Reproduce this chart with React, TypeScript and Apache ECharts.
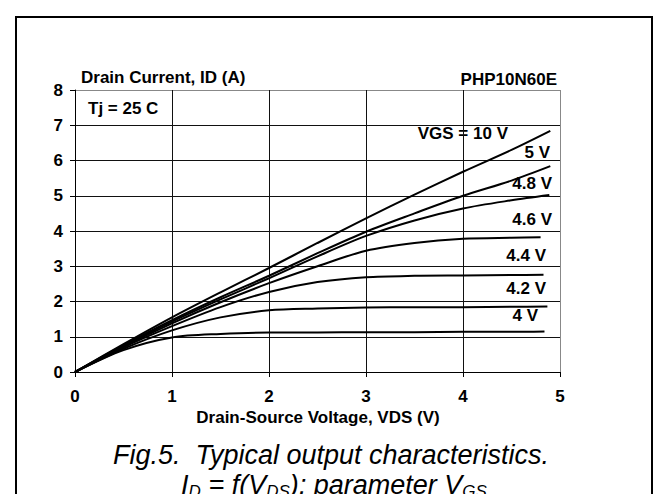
import React, { useEffect, useRef } from "react";
import * as echarts from "echarts";

const FONT = '"Liberation Sans", Arial, Helvetica, sans-serif';

// Drain-source voltage sample points (V)
const vdsPoints = [0, 0.5, 1, 1.5, 2, 2.5, 3, 3.5, 4, 4.5];
// Drain current (A) for each gate voltage at the sample points
const id10V = [0, 0.79, 1.55, 2.26, 2.95, 3.66, 4.36, 5.03, 5.68, 6.3];
const id5V = [0, 0.76, 1.47, 2.12, 2.73, 3.37, 3.98, 4.5, 5.0, 5.43];
const id48V = [0, 0.74, 1.43, 2.06, 2.66, 3.28, 3.86, 4.3, 4.64, 4.87];
const id46V = [0, 0.72, 1.38, 1.98, 2.52, 3.0, 3.44, 3.66, 3.78, 3.81];
const id44V = [0, 0.7, 1.3, 1.84, 2.27, 2.55, 2.69, 2.73, 2.74, 2.75];
const id42V = [0, 0.66, 1.18, 1.55, 1.75, 1.8, 1.83, 1.84, 1.84, 1.85];
const id4V = [0, 0.62, 0.98, 1.08, 1.12, 1.12, 1.13, 1.13, 1.14, 1.14];
// end points of each curve
const endVds = [4.9, 4.9, 4.89, 4.8, 4.83, 4.87, 4.84];
const endId = [6.84, 5.84, 5.02, 3.82, 2.76, 1.86, 1.15];
const curveNames = ["VGS = 10 V", "5 V", "4.8 V", "4.6 V", "4.4 V", "4.2 V", "4 V"];
const curveValues = [id10V, id5V, id48V, id46V, id44V, id42V, id4V];

const xTitle = "Drain-Source Voltage, VDS (V)";
const yTitle = "Drain Current, ID (A)";
const partName = "PHP10N60E";
const tempNote = "Tj = 25 C";
const caption1 = "Fig.5.  Typical output characteristics.";

// label positions (pixels): right edge x, center y
const labelPos = [
  [508, 133],
  [550, 152],
  [552, 183],
  [552, 219],
  [546, 255],
  [546, 288],
  [538, 315],
];

export default function App() {
  const ref = useRef<HTMLDivElement>(null);
  useEffect(() => {
    if (!ref.current) return;
    const chart = echarts.init(ref.current, null, { renderer: "svg" });
    const series = curveValues.map((vals, k) => ({
      type: "line",
      name: curveNames[k],
      showSymbol: false,
      smooth: 0.3,
      lineStyle: { color: "#000", width: 2 },
      data: [...vdsPoints.map((v, i) => [v, vals[i]]), [endVds[k], endId[k]]],
    }));
    const bold = { fontFamily: FONT, fontWeight: "bold", fontSize: 17, fill: "#000" };
    const graphic: any[] = [
      {
        type: "rect",
        shape: { x: 16, y: 17, width: 636, height: 520 },
        style: { fill: "none", stroke: "#000", lineWidth: 2 },
        silent: true,
      },
      { type: "text", x: 81, y: 77, style: { ...bold, text: yTitle, align: "left", verticalAlign: "middle" } },
      { type: "text", x: 557, y: 79, style: { ...bold, text: partName, align: "right", verticalAlign: "middle" } },
      { type: "text", x: 88, y: 108, style: { ...bold, text: tempNote, align: "left", verticalAlign: "middle" } },
      { type: "text", x: 318, y: 417, style: { ...bold, text: xTitle, align: "center", verticalAlign: "middle" } },
      {
        type: "text",
        x: 331,
        y: 455,
        style: {
          text: caption1,
          fontFamily: FONT,
          fontStyle: "italic",
          fontSize: 27,
          fill: "#000",
          align: "center",
          verticalAlign: "middle",
        },
      },
      {
        type: "text",
        x: 334,
        y: 485,
        style: {
          text: "{i|I}{s|D}{i| = f(V}{s|DS}{i|); parameter V}{s|GS}",
          align: "center",
          verticalAlign: "middle",
          fill: "#000",
          rich: {
            i: { fontFamily: FONT, fontStyle: "italic", fontSize: 27, fill: "#000", lineHeight: 28 },
            s: { fontFamily: FONT, fontStyle: "italic", fontSize: 17, fill: "#000", padding: [13, 0, 0, 0], lineHeight: 28 },
          },
        },
      },
      ...curveNames.map((n, k) => ({
        type: "text",
        x: labelPos[k][0],
        y: labelPos[k][1],
        style: { ...bold, text: n, align: "right", verticalAlign: "middle" },
      })),
    ];
    chart.setOption({
      animation: false,
      backgroundColor: "#fff",
      grid: { left: 75, top: 90, width: 485, height: 282 },
      xAxis: {
        type: "value",
        min: 0,
        max: 5,
        interval: 1,
        axisLine: { show: true, lineStyle: { color: "#000", width: 1 } },
        axisTick: { show: true, length: 5, inside: false, lineStyle: { color: "#000" } },
        axisLabel: { fontFamily: FONT, fontWeight: "bold", fontSize: 17, color: "#000", margin: 16 },
        splitLine: {
          show: true,
          lineStyle: { color: ["#111", "#111", "#111", "#111", "#111", "#888"], width: 1 },
        },
      },
      yAxis: {
        type: "value",
        min: 0,
        max: 8,
        interval: 1,
        axisLine: { show: true, lineStyle: { color: "#000", width: 1 } },
        axisTick: { show: true, length: 5, inside: false, lineStyle: { color: "#000" } },
        axisLabel: { fontFamily: FONT, fontWeight: "bold", fontSize: 17, color: "#000", margin: 12 },
        splitLine: {
          show: true,
          lineStyle: {
            color: ["#111", "#111", "#111", "#111", "#111", "#111", "#111", "#111", "#888"],
            width: 1,
          },
        },
      },
      series,
      graphic,
    });
    return () => chart.dispose();
  }, []);
  return (
    <div
      ref={ref}
      style={{ position: "fixed", left: 0, top: 0, width: 667, height: 494, background: "#fff" }}
    />
  );
}
